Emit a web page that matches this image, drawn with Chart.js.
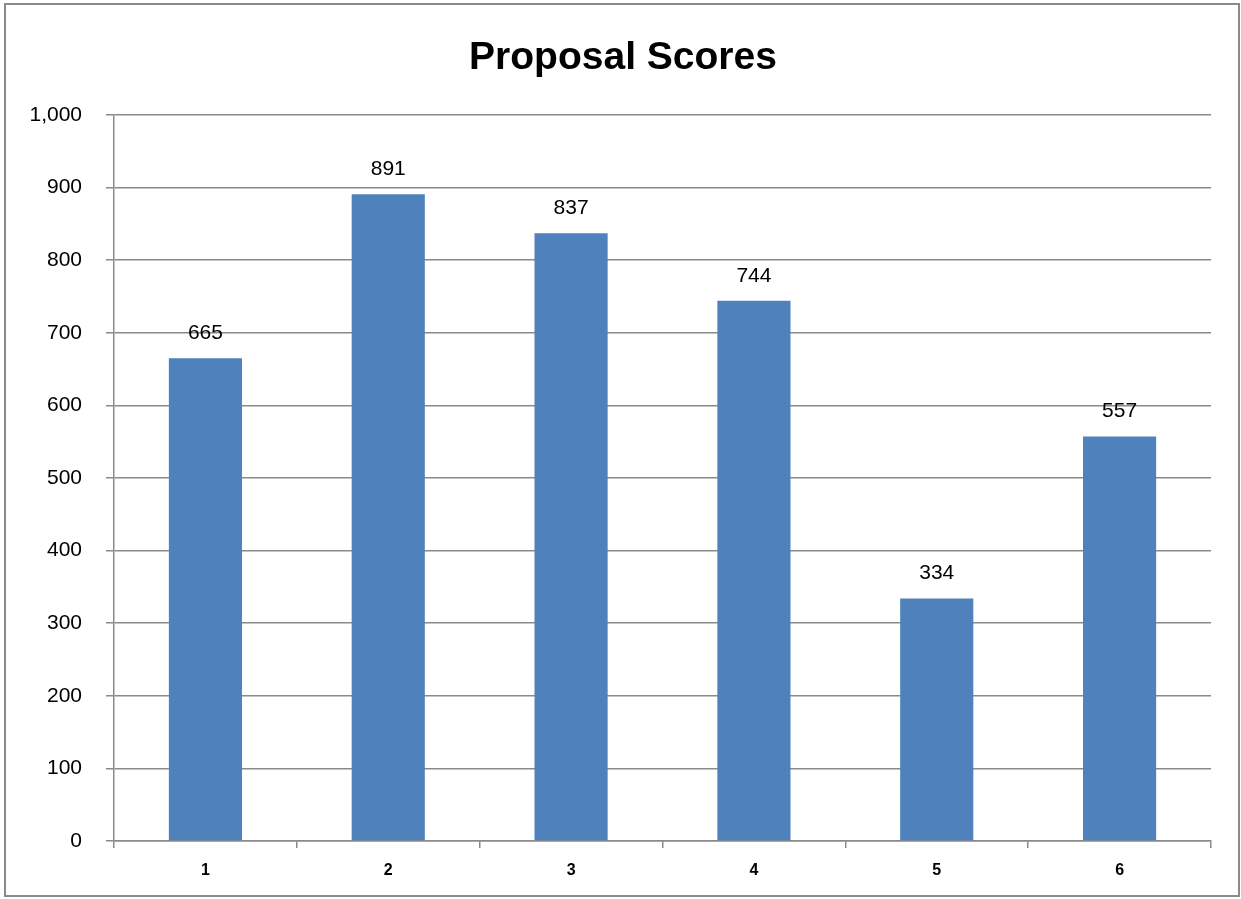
<!DOCTYPE html>
<html>
<head>
<meta charset="utf-8">
<script src="https://cdn.jsdelivr.net/npm/chart.js@4"></script>
<style>
html,body{margin:0;padding:0;background:#fff;}
#wrap{position:relative;width:1241px;height:899px;}
</style>
</head>
<body>
<div id="wrap"><canvas id="c" width="1241" height="899"></canvas></div>
<script>
const chartTitle = "Proposal Scores";
const categories = ["1", "2", "3", "4", "5", "6"];
const scores = [665, 891, 837, 744, 334, 557];
const yTicks = [0, 100, 200, 300, 400, 500, 600, 700, 800, 900, 1000];

const FONT = "'Liberation Sans', Arial, sans-serif";

const framePlugin = {
  id: 'frame',
  beforeDraw(chart) {
    const ctx = chart.ctx;
    ctx.save();
    ctx.fillStyle = '#fff';
    ctx.fillRect(0, 0, chart.width, chart.height);
    ctx.strokeStyle = '#8a8a8a';
    ctx.lineWidth = 2;
    ctx.strokeRect(5, 4, 1234, 892);
    ctx.fillStyle = '#000';
    ctx.font = "bold 39px " + FONT;
    ctx.textAlign = 'center';
    ctx.textBaseline = 'alphabetic';
    ctx.fillText(chartTitle, 623, 69);
    ctx.restore();
  },
  afterDatasetsDraw(chart) {
    const ctx = chart.ctx;
    const meta = chart.getDatasetMeta(0);
    ctx.save();
    ctx.fillStyle = '#000';
    ctx.font = "21px " + FONT;
    ctx.textAlign = 'center';
    ctx.textBaseline = 'middle';
    meta.data.forEach((bar, i) => {
      ctx.fillText(String(scores[i]), bar.x, bar.y - 25);
    });
    ctx.restore();
  }
};

new Chart(document.getElementById('c'), {
  type: 'bar',
  data: {
    labels: categories,
    datasets: [{
      data: scores,
      backgroundColor: '#4F81BD',
      borderWidth: 0,
      categoryPercentage: 1,
      barPercentage: 0.4
    }]
  },
  options: {
    responsive: false,
    animation: false,
    devicePixelRatio: 1,
    layout: { padding: { left: 0, right: 30, top: 115, bottom: 0 } },
    plugins: {
      legend: { display: false },
      title: { display: false },
      tooltip: { enabled: false }
    },
    scales: {
      x: {
        afterFit(scale) { scale.height = 58; },
        grid: {
          offset: true,
          drawOnChartArea: false,
          drawTicks: true,
          tickLength: 7,
          color: '#8a8a8a',
          lineWidth: 1.5
        },
        border: { color: '#8a8a8a', width: 1.5 },
        ticks: {
          color: '#000',
          font: { family: FONT, size: 16, weight: 'bold' },
          padding: 13
        }
      },
      y: {
        min: 0,
        max: 1000,
        afterFit(scale) { scale.width = 114; },
        afterBuildTicks(scale) { scale.ticks = yTicks.map(v => ({ value: v })); },
        grid: {
          color: '#8a8a8a',
          lineWidth: 1.5,
          drawTicks: true,
          tickLength: 8
        },
        border: { color: '#8a8a8a', width: 1.5 },
        ticks: {
          color: '#000',
          font: { family: FONT, size: 21 },
          padding: 24,
          callback(v) { return v.toLocaleString('en-US'); }
        }
      }
    }
  },
  plugins: [framePlugin]
});
</script>
</body>
</html>
